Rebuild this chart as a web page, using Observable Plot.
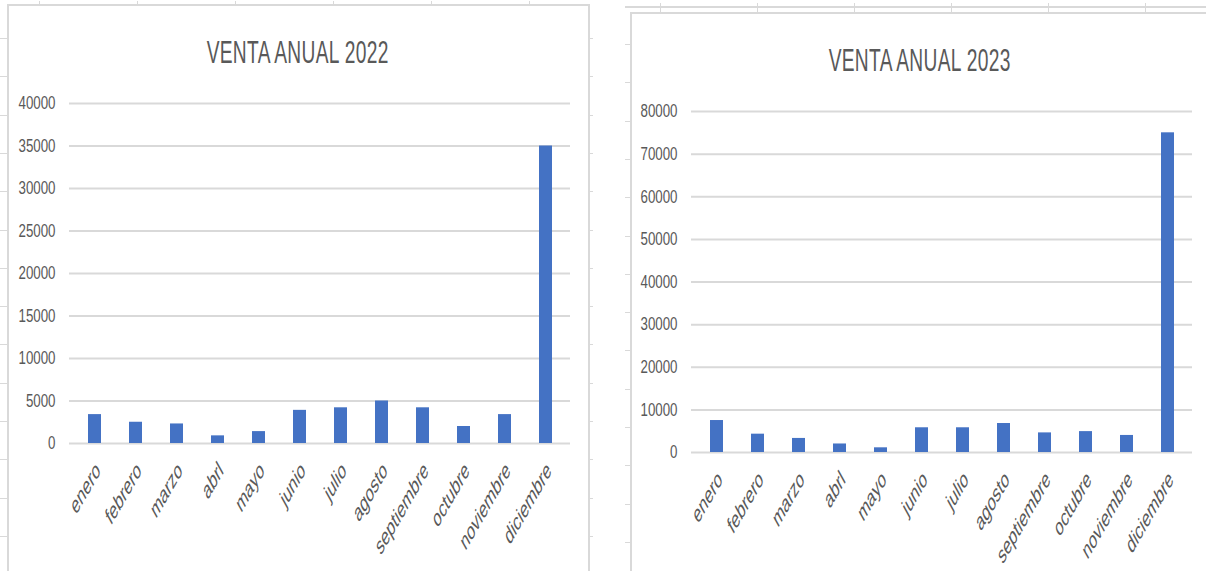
<!DOCTYPE html>
<html>
<head>
<meta charset="utf-8">
<script src="https://cdn.jsdelivr.net/npm/d3@7"></script>
<script src="https://cdn.jsdelivr.net/npm/@observablehq/plot@0.6"></script>
<style>
  html, body { margin: 0; padding: 0; background: #ffffff; }
  body { width: 1206px; height: 571px; position: relative; overflow: hidden;
         font-family: "Liberation Sans", Arial, sans-serif; }
  .frame { position: absolute; border: 2px solid #d9d9d9; border-bottom: none; box-sizing: border-box; }
  .tick { position: absolute; background: #d9d9d9; }
  .title { position: absolute; text-align: center; font-size: 32px; line-height: 32px; color: #595959;
           white-space: nowrap; }
  .title span { display: inline-block; transform: scaleX(0.6); transform-origin: center; letter-spacing: 0.5px; }
  .chart { position: absolute; }
</style>
</head>
<body>
<div id="deco"></div>
<div class="frame" style="left:7px;top:4px;width:583px;height:600px;"></div>
<div class="frame" style="left:630px;top:12px;width:600px;height:600px;"></div>
<div class="tick" style="left:625px;top:6px;width:590px;height:2px;"></div>
<div class="title" style="left:8px;top:36px;width:580px;"><span>VENTA ANUAL 2022</span></div>
<div class="title" style="left:631px;top:44px;width:578px;"><span>VENTA ANUAL 2023</span></div>
<div id="c1" class="chart" style="left:8px;top:5px;"></div>
<div id="c2" class="chart" style="left:631px;top:13px;"></div>
<script>
// ---- data ----
const months = ["enero", "febrero", "marzo", "abrl", "mayo", "junio", "julio", "agosto", "septiembre", "octubre", "noviembre", "diciembre"];
const sales2022 = [3400, 2500, 2300, 900, 1400, 3900, 4200, 5000, 4200, 2000, 3400, 35000];
const sales2023 = [7500, 4300, 3300, 2000, 1100, 5800, 5800, 6800, 4600, 4900, 4000, 75000];
const ticks2022 = [0, 5000, 10000, 15000, 20000, 25000, 30000, 35000, 40000];
const ticks2023 = [0, 10000, 20000, 30000, 40000, 50000, 60000, 70000, 80000];

// ---- decorative spreadsheet cell ticks ----
const deco = document.getElementById("deco");
function addTick(l, t, w, h) {
  const d = document.createElement("div");
  d.className = "tick";
  d.style.cssText = `left:${l}px;top:${t}px;width:${w}px;height:${h}px;`;
  deco.appendChild(d);
}
for (let k = 0; k < 15; k++) {
  const y1 = Math.round(38 + 38.3 * k);
  addTick(0, y1, 8, 1);
  addTick(589, y1, 4, 1);
  const y2 = Math.round(44 + 38.3 * k);
  if (y2 > 14) addTick(625, y2, 6, 1);
}
for (let k = 0; k < 6; k++) {
  addTick(Math.round(39 + 98 * k), 1, 1, 4);
  addTick(Math.round(660 + 97 * k), 3, 1, 9);
}

// ---- charts ----
function chart(values, ticks, o) {
  const data = months.map((m, i) => ({month: m, value: values[i]}));
  return Plot.plot({
    width: o.width,
    height: o.height,
    marginLeft: o.ml,
    marginRight: o.mr,
    marginTop: o.mt,
    marginBottom: o.mb,
    style: {fontFamily: '"Liberation Sans", Arial, sans-serif', color: "#595959", background: "transparent", overflow: "visible"},
    x: {domain: months, paddingInner: 0.69, paddingOuter: 0.345, axis: null},
    y: {domain: [0, ticks[ticks.length - 1]], axis: null},
    marks: [
      Plot.gridY(ticks, {stroke: "#d9d9d9", strokeOpacity: 1, strokeWidth: 2}),
      Plot.barY(data, {x: "month", y: "value", fill: "#4472c4"}),
      Plot.axisY(ticks, {label: null, tickSize: 0, tickPadding: 14, fontSize: 18, tickFormat: d => String(d)}),
      Plot.axisX({label: null, tickSize: 0, tickPadding: 23, tickRotate: -60, fontSize: 22, dx: 3})
    ]
  });
}

// The reference is a horizontally squeezed screenshot: mimic that look on the text.
function squeezeY(svg, factor) {
  svg.querySelectorAll('g[aria-label="y-axis tick label"] text').forEach(t => {
    const w = t.getComputedTextLength();
    t.setAttribute("textLength", (w * factor).toFixed(1));
    t.setAttribute("lengthAdjust", "spacingAndGlyphs");
  });
}
function squeezeX(svg) {
  const repl = "scale(0.7,1) rotate(-50.5) skewX(-12)";
  svg.querySelectorAll('g[aria-label="x-axis tick label"] text').forEach(t => {
    const tr = t.getAttribute("transform") || "";
    if (/rotate\(/.test(tr)) {
      t.setAttribute("transform", tr.replace(/rotate\([^)]*\)/, repl));
    }
  });
  svg.querySelectorAll('g[aria-label="x-axis tick label"]').forEach(g => {
    const tr = g.getAttribute("transform") || "";
    if (/rotate\(/.test(tr)) g.setAttribute("transform", tr.replace(/rotate\([^)]*\)/, repl));
  });
}

const s1 = chart(sales2022, ticks2022, {width: 580, height: 566, ml: 61, mr: 18, mt: 98, mb: 128});
document.getElementById("c1").appendChild(s1);
const s2 = chart(sales2023, ticks2023, {width: 575, height: 558, ml: 60, mr: 14, mt: 98, mb: 119});
document.getElementById("c2").appendChild(s2);
for (const s of [s1, s2]) {
  squeezeY(s, 0.74);
  squeezeX(s);
}
</script>
</body>
</html>
